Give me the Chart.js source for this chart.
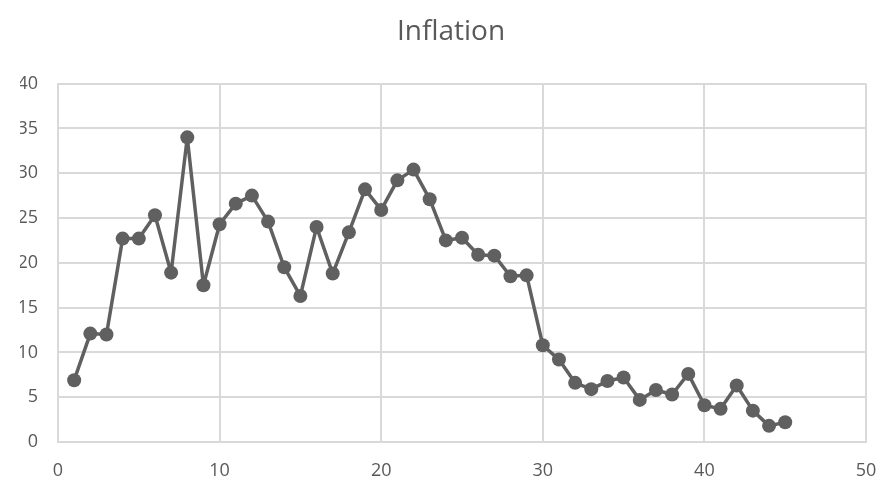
<!DOCTYPE html>
<html>
<head>
<meta charset="utf-8">
<title>Inflation</title>
<script src="https://cdn.jsdelivr.net/npm/chart.js@4/dist/chart.umd.min.js"></script>
<style>
  html, body { margin: 0; padding: 0; background: #fff; }
  #wrap { width: 882px; height: 482px; }
</style>
</head>
<body>
<div id="wrap"><canvas id="inflationChart"></canvas></div>
<script>
// x positions (period index) and inflation values
const periods = [1, 2, 3, 4, 5, 6, 7, 8, 9, 10, 11, 12, 13, 14, 15, 16, 17, 18, 19, 20,
  21, 22, 23, 24, 25, 26, 27, 28, 29, 30, 31, 32, 33, 34, 35, 36, 37, 38, 39, 40,
  41, 42, 43, 44, 45];
const inflation = [6.9, 12.1, 12.0, 22.7, 22.7, 25.3, 18.9, 34.0, 17.5, 24.3,
  26.6, 27.5, 24.6, 19.5, 16.3, 24.0, 18.8, 23.4, 28.2, 25.9,
  29.2, 30.4, 27.1, 22.5, 22.8, 20.9, 20.8, 18.5, 18.6, 10.8,
  9.2, 6.6, 5.9, 6.8, 7.2, 4.7, 5.8, 5.3, 7.6, 4.1,
  3.7, 6.3, 3.5, 1.8, 2.2];
const xTicks = [0, 10, 20, 30, 40, 50];
const yTicks = [0, 5, 10, 15, 20, 25, 30, 35, 40];

const points = periods.map((p, i) => ({ x: p, y: inflation[i] }));
const textColor = "#595959";
const gridColor = "#d9d9d9";
const fontFamily = "'Open Sans', 'Noto Sans', sans-serif";

const ctx = document.getElementById("inflationChart").getContext("2d");
new Chart(ctx, {
  type: "scatter",
  data: {
    datasets: [
      {
        label: "Inflation",
        data: points,
        showLine: true,
        borderColor: "#606060",
        backgroundColor: "#606060",
        borderWidth: 3.5,
        borderJoinStyle: "round",
        pointRadius: 7,
        pointBorderWidth: 0,
      },
    ],
  },
  options: {
    responsive: true,
    maintainAspectRatio: false,
    animation: false,
    // left padding shifts the title centre to the right, like the reference
    layout: { padding: { left: 20, right: 0, top: 0, bottom: 0 } },
    plugins: {
      legend: { display: false },
      tooltip: { enabled: false },
      title: {
        display: true,
        text: "Inflation",
        color: textColor,
        font: { family: fontFamily, size: 28, weight: "normal" },
        padding: { top: 15, bottom: 35 },
      },
    },
    scales: {
      x: {
        type: "linear",
        min: xTicks[0],
        max: xTicks[xTicks.length - 1],
        afterBuildTicks: (axis) => { axis.ticks = xTicks.map((v) => ({ value: v })); },
        afterFit: (axis) => {
          axis.height = 40;
          axis.paddingLeft = 0;
          axis.paddingRight = 16;
        },
        grid: { color: gridColor, lineWidth: 2, drawTicks: false },
        border: { color: gridColor, width: 2 },
        ticks: { color: textColor, padding: 18, font: { family: fontFamily, size: 18 } },
      },
      y: {
        min: yTicks[0],
        max: yTicks[yTicks.length - 1],
        afterBuildTicks: (axis) => { axis.ticks = yTicks.map((v) => ({ value: v })); },
        afterFit: (axis) => { axis.width = 38; },
        grid: { color: gridColor, lineWidth: 2, drawTicks: false },
        border: { color: gridColor, width: 2 },
        ticks: { color: textColor, padding: 20, font: { family: fontFamily, size: 18 } },
      },
    },
  },
});
</script>
</body>
</html>
